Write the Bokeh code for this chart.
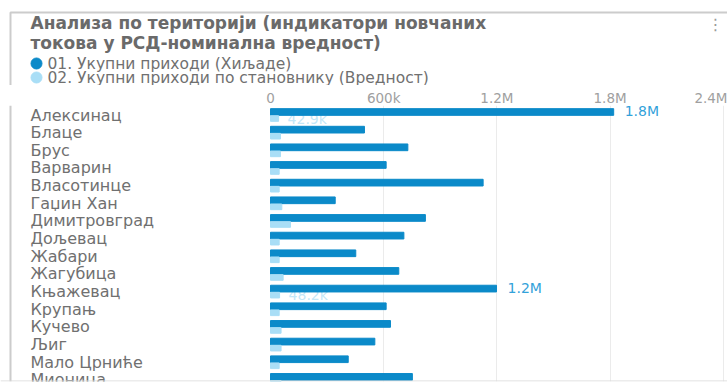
from bokeh.plotting import figure
from bokeh.models import ColumnDataSource, Range1d, FixedTicker, CustomJSTickFormatter, Span
from bokeh.layouts import column
from bokeh.transform import dodge
from bokeh.core.properties import value
from bokeh.embed import file_html
from bokeh.resources import INLINE

# ---------------- data ----------------
title_lines = ["Анализа по територији (индикатори новчаних",
               "токова у РСД-номинална вредност)"]
series_names = ["01. Укупни приходи (Хиљаде)", "02. Укупни приходи по становнику (Вредност)"]
municipalities = ["Алексинац", "Блаце", "Брус", "Варварин", "Власотинце", "Гаџин Хан",
                  "Димитровград", "Дољевац", "Жабари", "Жагубица", "Књажевац", "Крупањ",
                  "Кучево", "Љиг", "Мало Црниће", "Мионица"]
total_income = [1819000, 498000, 728000, 613000, 1127000, 343000, 821000, 707000,
                452000, 680000, 1198000, 613000, 636000, 553000, 412000, 752000]
income_per_capita = [42900, 53000, 53000, 46000, 46000, 60000, 106000, 46000,
                     46000, 67000, 48200, 46000, 56000, 56000, 46000, 56000]
x_ticks = [0, 600000, 1200000, 1800000, 2400000]
labeled = ["Алексинац", "Књажевац"]

# ---------------- style ----------------
FONT = "DejaVu Sans"
DARK = "#0b8ac9"
LIGHT = "#a9def6"
TXT = "#707070"
EDGE = "#cccccc"
W = 727
HEADER_H = 85
CHART_H = 298
ZERO_PX = 270                  # pixel of value 0
PX_PER_UNIT = 452.8 / 2400000  # horizontal scale
X_MIN = -ZERO_PX / PX_PER_UNIT
X_MAX = (W - ZERO_PX) / PX_PER_UNIT
ROW_PX = 17.66
FRAME_TOP = 105
FRAME_BOTTOM = 381
ROW0 = 114.5
Y_TOP = -(ROW0 - FRAME_TOP) / ROW_PX
Y_BOT = (FRAME_BOTTOM - ROW0) / ROW_PX


def fmt(v):
    if v >= 1e6:
        return f"{v / 1e6:.1f}M"
    return f"{v / 1e3:.1f}k"


# ---------------- header ----------------
hdr = figure(width=W, height=HEADER_H, output_backend="svg", toolbar_location=None,
             x_range=Range1d(0, W), y_range=Range1d(HEADER_H, 0),
             min_border=0, outline_line_color=None)
hdr.axis.visible = False
hdr.grid.visible = False
# card edge
hdr.line(x=[10, 10, W], y=[HEADER_H, 12, 12], line_color=EDGE, line_width=2)
hdr.text(x=[30, 30], y=[22, 42], text=title_lines, text_font=value(FONT),
         text_font_style="bold", text_font_size="17px", text_color="#6a6a6a",
         text_baseline="middle")
hdr.text(x=[715], y=[24], text=["⋮"], text_font=value(FONT), text_font_size="16px",
         text_color="#9a9a9a", text_baseline="middle", text_align="center")
hdr.scatter(x=[36, 36], y=[63, 77], marker="circle", size=11, color=[DARK, LIGHT])
hdr.text(x=[47, 47], y=[63, 77], text=series_names, text_font=value(FONT),
         text_font_size="15.5px", text_color=TXT, text_baseline="middle")

# ---------------- chart ----------------
idx = list(range(len(municipalities)))
src = ColumnDataSource(dict(y=idx, name=municipalities, total=total_income,
                            percap=income_per_capita,
                            lx=[X_MIN + 30 / PX_PER_UNIT] * len(idx)))

p = figure(width=W, height=CHART_H, output_backend="svg", toolbar_location=None,
           x_range=Range1d(X_MIN, X_MAX), y_range=Range1d(Y_BOT, Y_TOP),
           x_axis_location="above", min_border_left=0, min_border_right=0,
           min_border_bottom=CHART_H + HEADER_H - FRAME_BOTTOM,
           min_border_top=FRAME_TOP - HEADER_H, outline_line_color=None)
p.yaxis.visible = False
p.ygrid.visible = False
p.xaxis.ticker = FixedTicker(ticks=x_ticks)
p.xaxis.formatter = CustomJSTickFormatter(code="""
  if (tick == 0) return '0';
  if (tick >= 1e6) return (tick/1e6).toFixed(1) + 'M';
  return (tick/1e3).toFixed(0) + 'k';
""")
p.xaxis.axis_line_color = None
p.xaxis.major_tick_line_color = None
p.xaxis.minor_tick_line_color = None
p.xaxis.major_tick_out = 0
p.xaxis.major_tick_in = 0
p.xaxis.minor_tick_out = 0
p.xaxis.minor_tick_in = 0
p.xaxis.axis_label_standoff = 0
p.xaxis.major_label_standoff = 0
p.xaxis.major_label_text_font = FONT
p.xaxis.major_label_text_font_size = "13.5px"
p.xaxis.major_label_text_color = "#a0a0a0"
p.xgrid.ticker = FixedTicker(ticks=x_ticks[1:])
p.xgrid.grid_line_color = "#ebebeb"

lab_rows = [i for i, n in enumerate(municipalities) if n in labeled]
lab_src = ColumnDataSource(dict(
    y=lab_rows,
    total=[total_income[i] for i in lab_rows],
    percap=[income_per_capita[i] for i in lab_rows],
    t_total=[fmt(total_income[i]) for i in lab_rows],
    t_percap=[fmt(income_per_capita[i]) for i in lab_rows]))

# per-capita label sits underneath the bars
p.text(x="percap", y=dodge("y", 0.2, range=p.y_range), text="t_percap", source=lab_src,
       x_offset=9, text_font=value(FONT), text_font_size="14px", text_color="#c3e7f8",
       text_baseline="middle")

p.hbar(y=dodge("y", -0.17, range=p.y_range), left=0, right="total", height=0.38,
       source=src, color=DARK)
p.hbar(y=dodge("y", 0.2, range=p.y_range), left=0, right="percap", height=0.32,
       source=src, color=LIGHT)

p.text(x="lx", y="y", text="name", source=src, text_font=value(FONT),
       text_font_size="16px", text_color=TXT, text_baseline="middle",
       text_align="left")

p.text(x="total", y=dodge("y", -0.2, range=p.y_range), text="t_total", source=lab_src,
       x_offset=11, text_font=value(FONT), text_font_size="14px", text_color="#33a2da",
       text_baseline="middle")

# card edges
p.add_layout(Span(location=X_MIN + 10 / PX_PER_UNIT, dimension="height",
                  line_color=EDGE, line_width=2))
p.add_layout(Span(location=Y_BOT - 0.5 / ROW_PX, dimension="width",
                  line_color="#d8d8d8", line_width=1))

layout = column(hdr, p, spacing=0)

open("out.html", "w").write(file_html(layout, INLINE))
